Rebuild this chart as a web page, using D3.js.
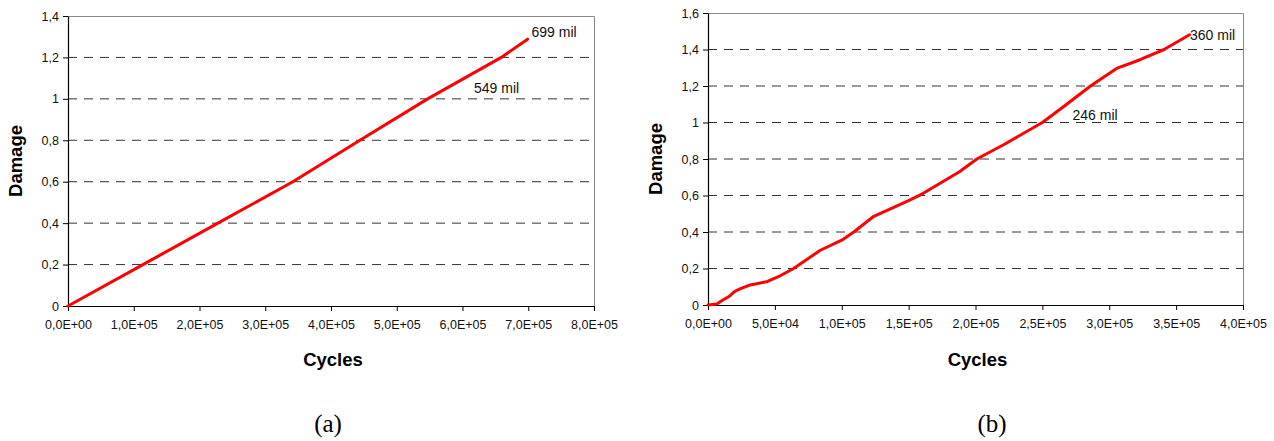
<!DOCTYPE html>
<html>
<head>
<meta charset="utf-8">
<script src="https://cdn.jsdelivr.net/npm/d3@7"></script>
<style>
    body { margin: 0; background: #fff; }
    text { font-family: "Liberation Sans", Arial, sans-serif; }
</style>
</head>
<body>
<svg id="fig" width="1274" height="441"></svg>
<script>
// chart (a)
const cyclesA = [0, 114000, 228000, 342000, 444000, 547000, 659000, 699000]
const damageA = [0, 0.2, 0.4, 0.6, 0.8, 1.0, 1.2, 1.288]
const xTicksA = [0, 1e5, 2e5, 3e5, 4e5, 5e5, 6e5, 7e5, 8e5]
const yTicksA = [0, 0.2, 0.4, 0.6, 0.8, 1, 1.2, 1.4]
const labelTextA = ['699 mil', '549 mil']
const labelCyclesA = [705000, 617500]
const labelDamageA = [1.30, 1.027]

// chart (b)
const cyclesB = [0, 6700, 10500, 15400, 20000, 24000, 31600, 44000, 54000, 64000, 84000, 100000,
    109000, 124000, 150000, 160000, 188000, 201000, 221000, 250000, 266000, 286000, 306000,
    323000, 341000, 360000]
const damageB = [0, 0.005, 0.025, 0.045, 0.075, 0.088, 0.11, 0.128, 0.16, 0.2, 0.3, 0.355,
    0.4, 0.486, 0.572, 0.608, 0.73, 0.8, 0.878, 1.0, 1.088, 1.2, 1.298,
    1.344, 1.4, 1.481]
const xTicksB = [0, 5e4, 1e5, 1.5e5, 2e5, 2.5e5, 3e5, 3.5e5, 4e5]
const yTicksB = [0, 0.2, 0.4, 0.6, 0.8, 1, 1.2, 1.4, 1.6]
const labelTextB = ['360 mil', '246 mil']
const labelCyclesB = [360400, 272500]
const labelDamageB = [1.45, 1.015]

const svg = d3.select('#fig')

// excel style "1,0E+05"
function sciFormat(v) {
    if (v === 0) return '0,0E+00'
    const e = Math.floor(Math.log10(v))
    const m = (v / Math.pow(10, e)).toFixed(1).replace('.', ',')
    return m + 'E+' + String(e).padStart(2, '0')
}

function decFormat(v) {
    return String(+v.toFixed(1)).replace('.', ',')
}

function drawChart(cfg) {
    const x = d3.scaleLinear().domain(cfg.xDomain).range([cfg.left, cfg.right])
    const y = d3.scaleLinear().domain(cfg.yDomain).range([cfg.bottom, cfg.top])

    const g = svg.append('g')

    // dashed gridlines
    g.selectAll('.grid')
        .data(cfg.yTicks.filter(d => d > 0 && d < cfg.yDomain[1]))
        .enter()
        .append('line')
        .attr('x1', cfg.left)
        .attr('x2', cfg.right)
        .attr('y1', d => y(d))
        .attr('y2', d => y(d))
        .attr('stroke', '#333')
        .attr('stroke-width', 1)
        .attr('stroke-dasharray', '9,7')

    // top + right border (grey)
    g.append('path')
        .attr('d', `M${cfg.left},${cfg.top + 0.5}H${cfg.right + 0.5}V${cfg.bottom}`)
        .attr('fill', 'none')
        .attr('stroke', '#888')
        .attr('stroke-width', 1)

    const xAxis = g.append('g')
        .attr('transform', `translate(0,${cfg.bottom})`)
        .call(d3.axisBottom(x).tickValues(cfg.xTicks).tickFormat(sciFormat)
            .tickSize(5).tickSizeOuter(0).tickPadding(9))

    const yAxis = g.append('g')
        .attr('transform', `translate(${cfg.left},0)`)
        .call(d3.axisLeft(y).tickValues(cfg.yTicks).tickFormat(decFormat)
            .tickSize(5).tickSizeOuter(0).tickPadding(4))

    ;[xAxis, yAxis].forEach(a => {
        a.attr('font-size', null).attr('font-family', null)
        a.select('.domain').attr('stroke', '#000').attr('stroke-width', 1.2)
        a.selectAll('.tick line').attr('stroke', '#000')
        a.selectAll('.tick text')
            .attr('fill', '#111')
            .style('font-size', '12.5px')
    })

    const line = d3.line()
        .x(d => x(d[0]))
        .y(d => y(d[1]))

    g.append('path')
        .datum(cfg.cycles.map((c, i) => [c, cfg.damage[i]]))
        .attr('d', line)
        .attr('fill', 'none')
        .attr('stroke', '#ff0000')
        .attr('stroke-width', 3)
        .attr('stroke-linejoin', 'round')
        .attr('stroke-linecap', 'round')

    g.selectAll('.lbl')
        .data(cfg.labels)
        .enter()
        .append('text')
        .attr('x', (d, i) => x(cfg.labelCycles[i]))
        .attr('y', (d, i) => y(cfg.labelDamage[i]))
        .attr('fill', '#111')
        .style('font-size', '14px')
        .text(d => d)

    // axis titles
    g.append('text')
        .attr('transform', `translate(${cfg.yTitleX},${(cfg.top + cfg.bottom) / 2}) rotate(-90)`)
        .attr('text-anchor', 'middle')
        .style('font-size', '18.5px')
        .style('font-weight', 'bold')
        .text('Damage')

    g.append('text')
        .attr('x', (cfg.left + cfg.right) / 2 + 2)
        .attr('y', 366)
        .attr('text-anchor', 'middle')
        .style('font-size', '18.5px')
        .style('font-weight', 'bold')
        .text('Cycles')

    g.append('text')
        .attr('x', cfg.captionX)
        .attr('y', 432)
        .attr('text-anchor', 'middle')
        .style('font-family', '"Liberation Serif", "Times New Roman", serif')
        .style('font-size', '25px')
        .text(cfg.caption)
}

drawChart({
    left: 68, right: 594, top: 16, bottom: 306,
    xDomain: [0, 8e5], yDomain: [0, 1.4],
    xTicks: xTicksA, yTicks: yTicksA,
    cycles: cyclesA, damage: damageA,
    labels: labelTextA, labelCycles: labelCyclesA, labelDamage: labelDamageA,
    yTitleX: 22, captionX: 328, caption: '(a)'
})

drawChart({
    left: 708, right: 1243, top: 13, bottom: 305,
    xDomain: [0, 4e5], yDomain: [0, 1.6],
    xTicks: xTicksB, yTicks: yTicksB,
    cycles: cyclesB, damage: damageB,
    labels: labelTextB, labelCycles: labelCyclesB, labelDamage: labelDamageB,
    yTitleX: 662, captionX: 992, caption: '(b)'
})
</script>
</body>
</html>
